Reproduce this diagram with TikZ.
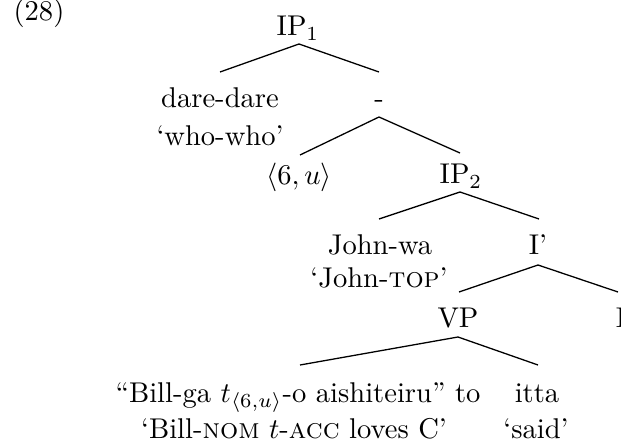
\documentclass[tikz,border=0pt]{standalone}
\begin{document}
\begin{tikzpicture}[x=0.35pt,y=-0.35pt,
  lab/.style={anchor=base,inner sep=0pt,font=\fontsize{10}{12}\selectfont},
  br/.style={line width=0.45pt}]
\useasboundingbox (0,0) rectangle (621,444);
\clip (0,0) rectangle (621,444);
% labels
\node[lab,anchor=base west] (ex) at (13,21) {(28)};
\node[lab] (ip1) at (298,36) {IP$_1$};
\node[lab] (dare) at (220,108) {dare-dare};
\node[lab] (whowho) at (220,146) {`who-who'};
\node[lab] (dash) at (379,108) {-};
\node[lab] (idx) at (299,185) {$\langle 6,u\rangle$};
\node[lab] (ip2) at (461,184) {IP$_2$};
\node[lab] (john) at (380,254) {John-wa};
\node[lab] (johntop) at (379,288) {`John-\textsc{top}'};
\node[lab] (ibar) at (538,254) {I'};
\node[lab] (vp) at (458,327) {VP};
\node[lab] (inode) at (621,327) {I};
\node[lab] (bill) at (298,402) {``Bill-ga $t_{\langle 6,u\rangle}$-o aishiteiru'' to};
\node[lab] (billgl) at (294,438) {`Bill-\textsc{nom} $t$-\textsc{acc} loves C'};
\node[lab] (itta) at (537,402) {itta};
\node[lab] (said) at (536,438) {`said'};
% branch points
\coordinate (ip1b) at (299,44);
\coordinate (dareT) at (220,72);
\coordinate (dashT) at (379,72);
\coordinate (dashB) at (379,117);
\coordinate (idxT) at (300,155);
\coordinate (ip2T) at (460,153);
\coordinate (ip2B) at (460,192);
\coordinate (johnT) at (379,219);
\coordinate (ibarT) at (539,219);
\coordinate (ibarB) at (538,265);
\coordinate (vpT) at (459,292);
\coordinate (iT) at (618,292);
\coordinate (vpB) at (458,337);
\coordinate (billT) at (300,365);
\coordinate (ittaT) at (538,365);
\draw[br] (dareT) -- (ip1b) -- (dashT);
\draw[br] (idxT) -- (dashB) -- (ip2T);
\draw[br] (johnT) -- (ip2B) -- (ibarT);
\draw[br] (vpT) -- (ibarB) -- (iT);
\draw[br] (billT) -- (vpB) -- (ittaT);
\end{tikzpicture}
\end{document}
